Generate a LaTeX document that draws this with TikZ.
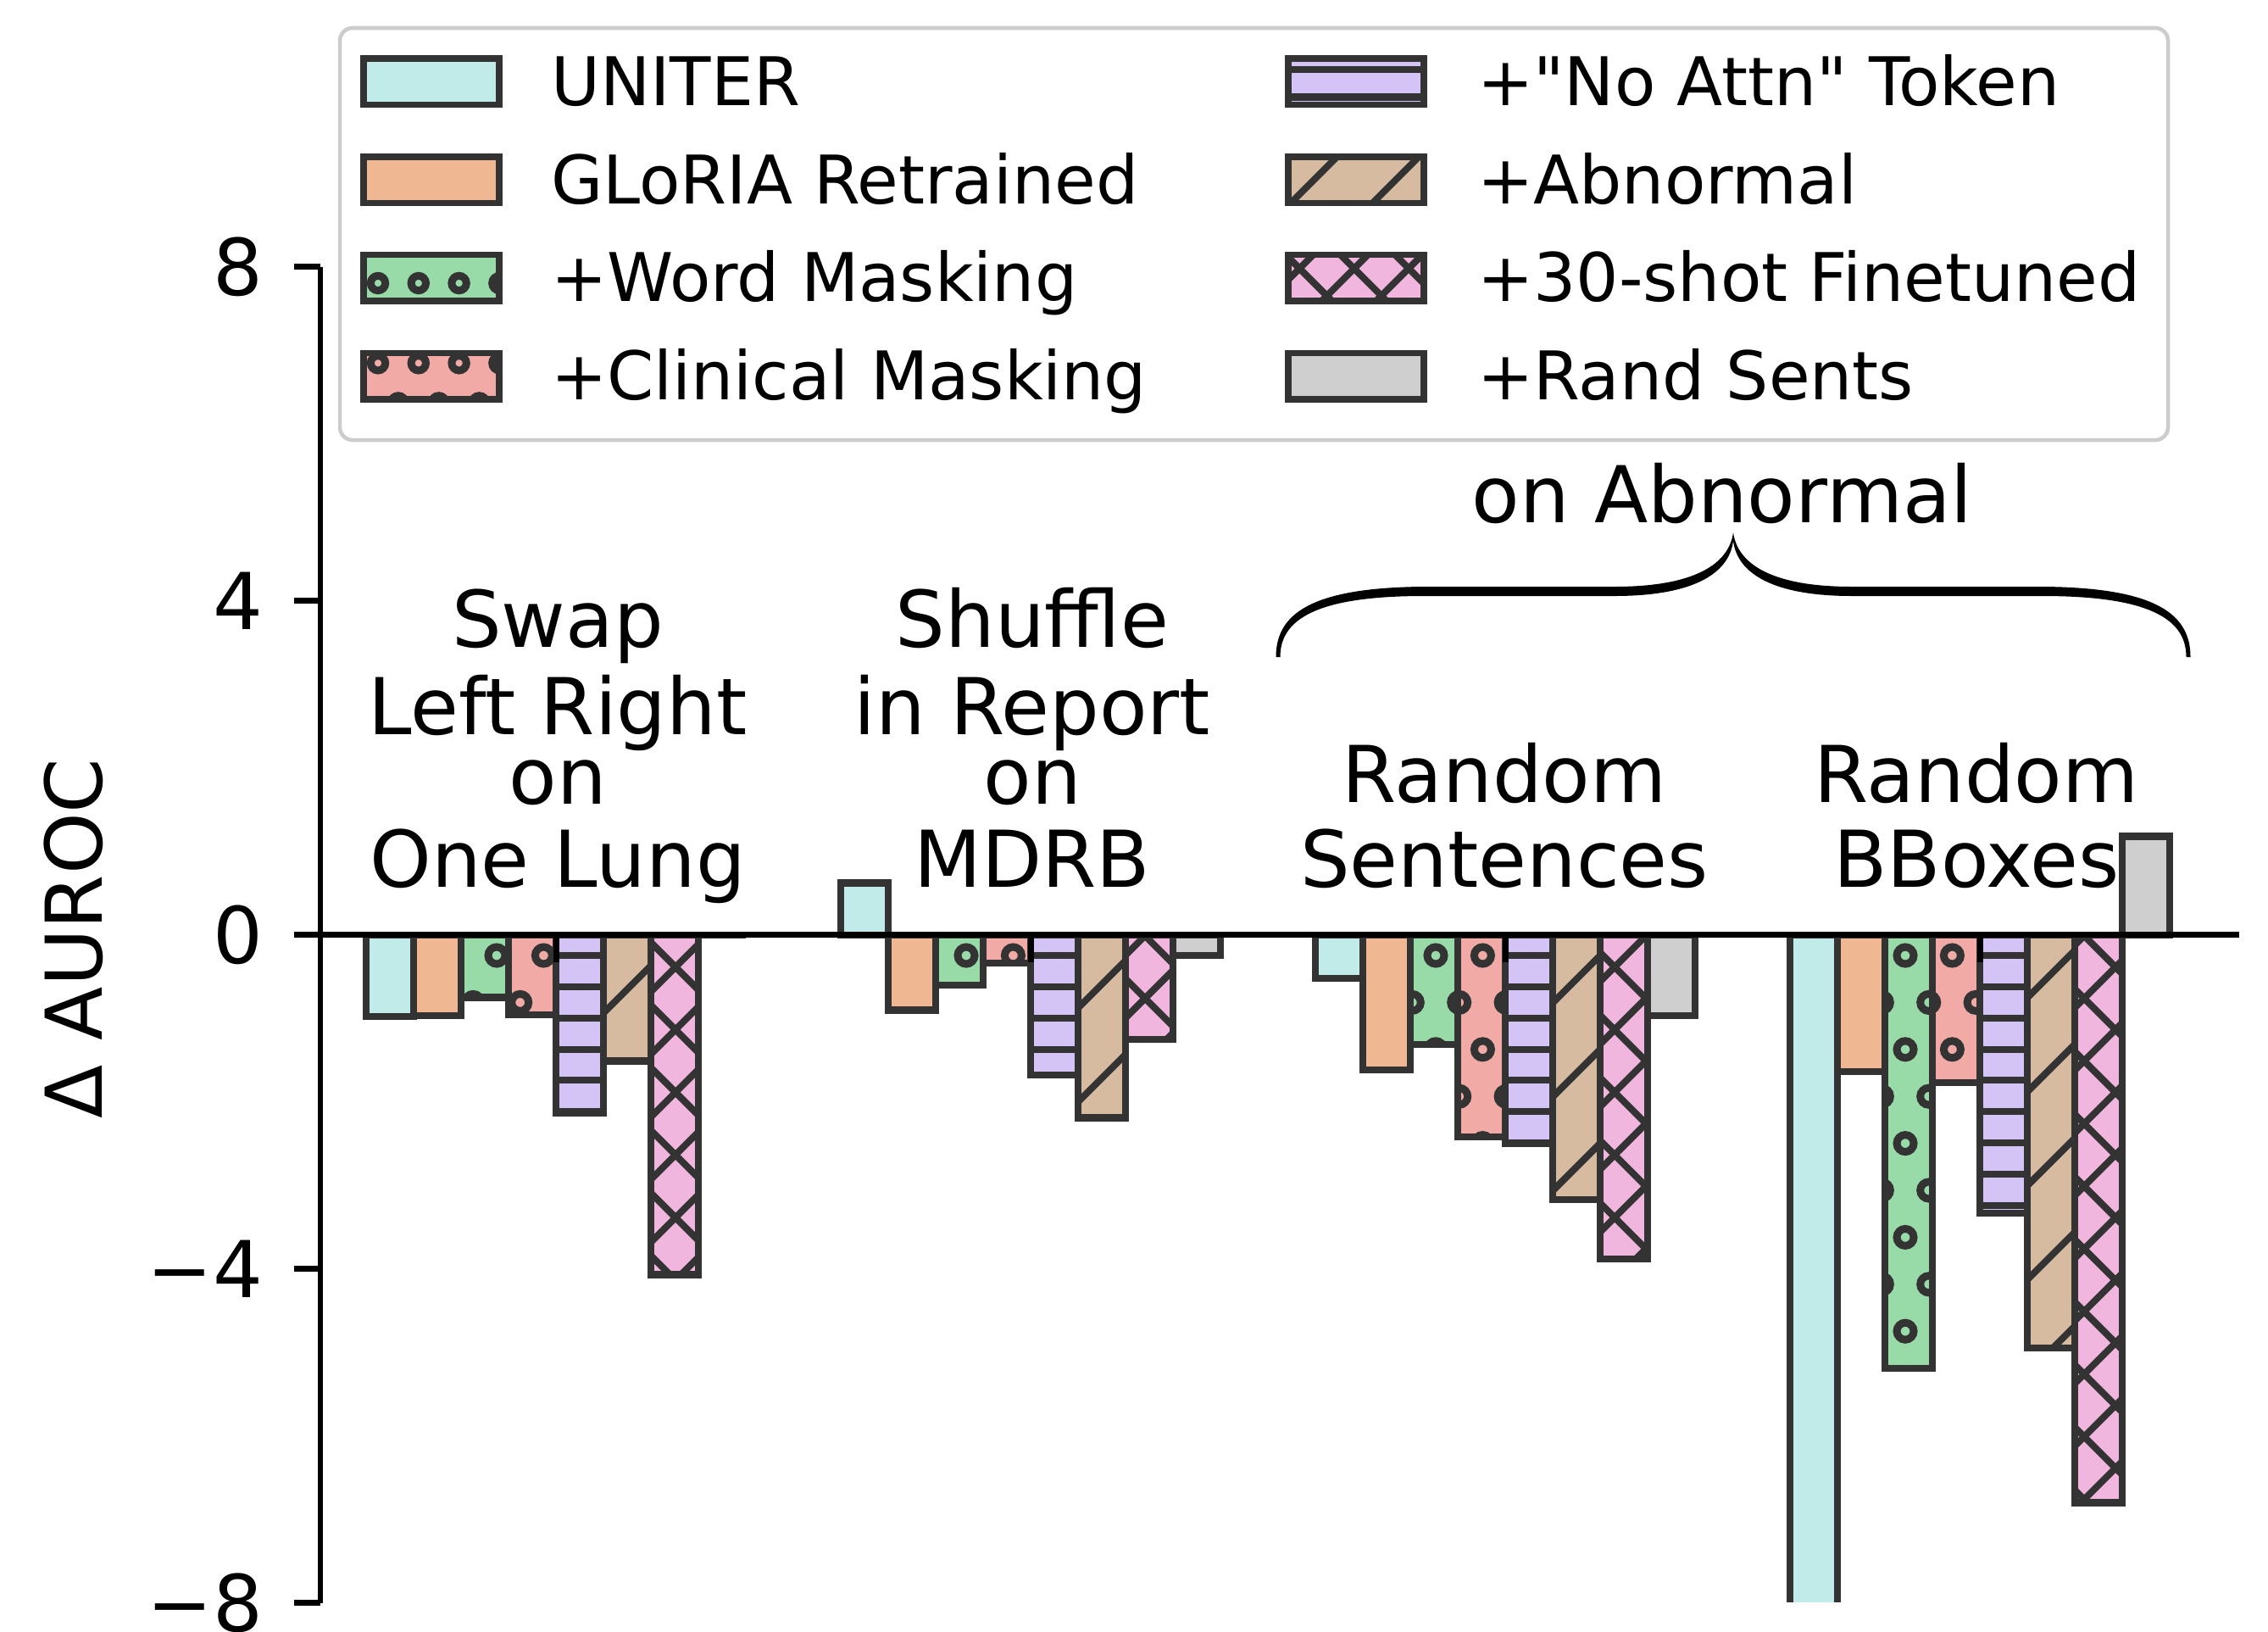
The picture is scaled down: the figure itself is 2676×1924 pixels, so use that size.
\documentclass[tikz,border=0pt]{standalone}
\usepackage{fontspec}
\setmainfont{DejaVu Sans}[Ligatures=TeXOff]
\definecolor{cU}{RGB}{192,235,232}
\definecolor{cG}{RGB}{240,184,146}
\definecolor{cW}{RGB}{152,219,168}
\definecolor{cC}{RGB}{242,170,166}
\definecolor{cN}{RGB}{212,196,245}
\definecolor{cA}{RGB}{214,187,160}
\definecolor{cX}{RGB}{240,182,222}
\definecolor{cR}{RGB}{207,207,207}
\definecolor{edgegray}{RGB}{51,51,51}
\definecolor{legframe}{RGB}{204,204,204}
% hatch helpers (pixel coordinates, y downwards)
\newcommand\hcirc[9]{% x1 x2 y1 y2 colsp rowsp x0 y0 r
  \pgfmathtruncatemacro\kA{floor(((#3)-(#9)-(#8))/(#6))-1}%
  \pgfmathtruncatemacro\kB{floor(((#4)+(#9)-(#8))/(#6))+1}%
  \pgfmathtruncatemacro\nA{floor(((#1)-(#9)-(#7))/(#5))-2}%
  \pgfmathtruncatemacro\nB{floor(((#2)+(#9)-(#7))/(#5))+1}%
  \foreach \ki in {\kA,...,\kB}{%
    \foreach \ni in {\nA,...,\nB}{%
      \pgfmathsetmacro\cx{(#7)+(#5)*\ni+mod(abs(\ki),2)*(#5)/2}%
      \pgfmathsetmacro\cy{(#8)+(#6)*\ki}%
      \draw[hl,line width=0.09cm] (\cx,\cy) circle[radius={(#9)*0.01cm}];%
    }}}
\newcommand\hlines[6]{% x1 x2 y1 y2 sp y0
  \pgfmathtruncatemacro\kA{floor(((#3)-(#6))/(#5))-1}%
  \pgfmathtruncatemacro\kB{floor(((#4)-(#6))/(#5))+1}%
  \foreach \ki in {\kA,...,\kB}{%
    \pgfmathsetmacro\cy{(#6)+(#5)*\ki}%
    \draw[hl] ({(#1)-10},\cy) -- ({(#2)+10},\cy);}}
\newcommand\slines[6]{% x+y = c0 + sp*k
  \pgfmathtruncatemacro\kA{floor(((#1)+(#3)-(#6))/(#5))-1}%
  \pgfmathtruncatemacro\kB{floor(((#2)+(#4)-(#6))/(#5))+1}%
  \foreach \ki in {\kA,...,\kB}{%
    \pgfmathsetmacro\cc{(#6)+(#5)*\ki}%
    \draw[hl] ({(#1)-20},{\cc-(#1)+20}) -- ({(#2)+20},{\cc-(#2)-20});}}
\newcommand\blines[6]{% y-x = b0 + sp*k
  \pgfmathtruncatemacro\kA{floor(((#3)-(#2)-(#6))/(#5))-1}%
  \pgfmathtruncatemacro\kB{floor(((#4)-(#1)-(#6))/(#5))+1}%
  \foreach \ki in {\kA,...,\kB}{%
    \pgfmathsetmacro\bb{(#6)+(#5)*\ki}%
    \draw[hl] ({(#1)-20},{\bb+(#1)-20}) -- ({(#2)+20},{\bb+(#2)+20});}}
% bar hatches
\newcommand\hatchU{}
\newcommand\hatchG{}
\newcommand\hatchR{}
\newcommand\hatchW{\hcirc{\xa}{\xb}{\ya}{\yb}{55.4}{55.4}{1694}{1127}{10}}
\newcommand\hatchC{\hcirc{\xa}{\xb}{\ya}{\yb}{55.4}{55.4}{1694}{1127}{10}}
\newcommand\hatchN{\hlines{\xa}{\xb}{\ya}{\yb}{36.93}{1126.7}}
\newcommand\hatchA{\slines{\xa}{\xb}{\ya}{\yb}{110.8}{3015}}
\newcommand\hatchX{\slines{\xa}{\xb}{\ya}{\yb}{73.87}{3045.7}\blines{\xa}{\xb}{\ya}{\yb}{73.87}{-764.4}}
% legend hatches
\newcommand\leghatchU{}
\newcommand\leghatchG{}
\newcommand\leghatchR{}
\newcommand\leghatchW{\hcirc{\xa}{\xb}{\ya}{\yb}{47.8}{47.15}{446}{334}{8.7}}
\newcommand\leghatchC{\hcirc{\xa}{\xb}{\ya}{\yb}{47.8}{47.15}{446}{334}{8.7}}
\newcommand\leghatchN{\hlines{\xa}{\xb}{\ya}{\yb}{32.3}{82.2}}
\newcommand\leghatchA{\slines{\xa}{\xb}{\ya}{\yb}{96.5}{1762.5}}
\newcommand\leghatchX{\slines{\xa}{\xb}{\ya}{\yb}{64.4}{1850}\blines{\xa}{\xb}{\ya}{\yb}{64.4}{-1216.6}}
\newcommand\mybar[4]{% center, index, value, type
  \pgfmathsetmacro\xa{(#1)-224+56*(#2)}%
  \pgfmathsetmacro\xb{\xa+56}%
  \pgfmathsetmacro\ya{min(1102.7,1102.7-98.5*(#3))}%
  \pgfmathsetmacro\yb{max(1102.7,1102.7-98.5*(#3))}%
  \fill[c#4] (\xa,\ya) rectangle (\xb,\yb);
  \begin{scope}\clip (\xa,\ya) rectangle (\xb,\yb);\csname hatch#4\endcsname\end{scope}
  \draw[baredge] (\xa,\ya) rectangle (\xb,\yb);}
\newcommand\group[9]{%
  \mybar{#1}{0}{#2}{U}\mybar{#1}{1}{#3}{G}\mybar{#1}{2}{#4}{W}\mybar{#1}{3}{#5}{C}%
  \mybar{#1}{4}{#6}{N}\mybar{#1}{5}{#7}{A}\mybar{#1}{6}{#8}{X}\mybar{#1}{7}{#9}{R}}
\newcommand\legpatch[3]{% left x, centre y, type
  \pgfmathsetmacro\xa{#1}\pgfmathsetmacro\xb{#1+160}%
  \pgfmathsetmacro\ya{#2-27.3}\pgfmathsetmacro\yb{#2+27.3}%
  \fill[c#3] (\xa,\ya) rectangle (\xb,\yb);
  \begin{scope}\clip (\xa,\ya) rectangle (\xb,\yb);\csname leghatch#3\endcsname\end{scope}
  \draw[baredge,line width=0.077cm] (\xa,\ya) rectangle (\xb,\yb);}
\begin{document}
\begin{tikzpicture}[x=0.01cm,y=-0.01cm,
  baredge/.style={draw=edgegray,line width=0.083cm},
  hl/.style={draw=edgegray,line width=0.08cm},
  big/.style={font=\fontsize{26.3pt}{30pt}\selectfont,inner sep=0pt},
  leg/.style={font=\fontsize{22.5pt}{26pt}\selectfont,inner sep=0pt,anchor=base west},
  axisline/.style={black,line width=0.065cm}]
\useasboundingbox (0,0) rectangle (2676,1924);
% bars
\begin{scope}
\clip (378,314) rectangle (2642,1889);
\group{656}{-0.98}{-0.97}{-0.75}{-0.96}{-2.13}{-1.51}{-4.07}{0}
\group{1216}{0.62}{-0.90}{-0.60}{-0.34}{-1.68}{-2.19}{-1.25}{-0.25}
\group{1776}{-0.52}{-1.62}{-1.31}{-2.42}{-2.50}{-3.17}{-3.88}{-0.97}
\group{2336}{-9}{-1.64}{-5.19}{-1.77}{-3.33}{-4.95}{-6.80}{1.18}
\end{scope}
% zero line and x ticks
\draw[black,line width=0.07cm] (378,1102.7) -- (2642,1102.7);
\foreach \c in {656,1216,1776,2336}
  \draw[black,line width=0.07cm] (\c,1102.7) -- (\c,1135);
% y axis
\draw[axisline] (378,314.7) -- (378,1890.7);
\foreach \v in {8,4,0,-4,-8}
  \draw[axisline] (347,{1102.7-98.5*\v}) -- (378,{1102.7-98.5*\v});
\node[big,anchor=east] (t8) at (311,314.7) {8};
\node[big,anchor=east] (t4) at (311,708.7) {4};
\node[big,anchor=east] (t0) at (311,1102.7) {0};
\node[big,anchor=east] (tm4) at (311,1496.7) {−4};
\node[big,anchor=east] (tm8) at (311,1890.7) {−8};
\node[big,rotate=90,anchor=base] (ylab) at (120,1107) {Δ AUROC};
% group labels
\node[big,anchor=base] (g1a) at (658,763.3) {Swap};
\node[big,anchor=base] (g1b) at (658,866.7) {Left Right};
\node[big,anchor=base] (g1c) at (658,948.3) {on};
\node[big,anchor=base] (g1d) at (658,1046.7) {One Lung};
\node[big,anchor=base] (g2a) at (1218,763.3) {Shuffle};
\node[big,anchor=base] (g2b) at (1218,866.7) {in Report};
\node[big,anchor=base] (g2c) at (1218,948.3) {on};
\node[big,anchor=base] (g2d) at (1218,1046.7) {MDRB};
\node[big,anchor=base] (g3a) at (1775,946) {Random};
\node[big,anchor=base] (g3b) at (1775,1046.7) {Sentences};
\node[big,anchor=base] (g4a) at (2332,946) {Random};
\node[big,anchor=base] (g4b) at (2332,1046.7) {BBoxes};
\node[big,anchor=base] (onab) at (2032,616) {on Abnormal};
% brace
\fill[black] (1505.5,775) .. controls (1505.5,725) and (1545,693) .. (1680,692)
  -- (1905,692) .. controls (2000,692) and (2040,665) .. (2045,628)
  .. controls (2050,665) and (2090,692) .. (2185,692)
  -- (2410,692) .. controls (2545,693) and (2584.5,725) .. (2584.5,775)
  -- (2579.5,775) .. controls (2579.5,732) and (2540,703) .. (2410,703)
  -- (2185,703) .. controls (2095,703) and (2050,678) .. (2045,638)
  .. controls (2040,678) and (1995,703) .. (1905,703)
  -- (1680,703) .. controls (1550,703) and (1510.5,732) .. (1510.5,775) -- cycle;
% legend
\draw[draw=legframe,fill=white,line width=0.045cm,rounded corners=0.15cm] (401,33) rectangle (2558,519);
\legpatch{429}{96.3}{U}
\legpatch{429}{212.2}{G}
\legpatch{429}{327.7}{W}
\legpatch{429}{443.8}{C}
\legpatch{1520}{96.3}{N}
\legpatch{1520}{212.2}{A}
\legpatch{1520}{327.7}{X}
\legpatch{1520}{443.8}{R}
\node[leg] (l1) at (649.5,124.3) {UNITER};
\node[leg] (l2) at (649.5,240.2) {GLoRIA Retrained};
\node[leg] (l3) at (649.5,355.7) {+Word Masking};
\node[leg] (l4) at (649.5,471.8) {+Clinical Masking};
\node[leg] (l5) at (1742.5,124.3) {+"No Attn" Token};
\node[leg] (l6) at (1742.5,240.2) {+Abnormal};
\node[leg] (l7) at (1742.5,355.7) {+30-shot Finetuned};
\node[leg] (l8) at (1742.5,471.8) {+Rand Sents};
\end{tikzpicture}
\end{document}
